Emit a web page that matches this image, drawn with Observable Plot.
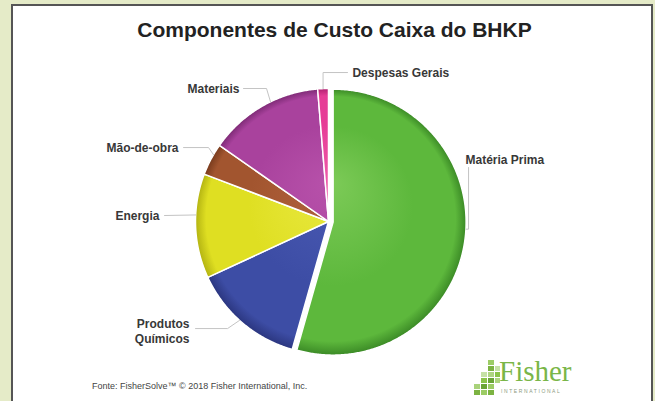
<!DOCTYPE html>
<html>
<head>
<meta charset="utf-8">
<script src="https://cdn.jsdelivr.net/npm/d3@7"></script>
<script src="https://cdn.jsdelivr.net/npm/@observablehq/plot@0.6"></script>
<style>
  html, body { margin: 0; padding: 0; }
  body { width: 655px; height: 401px; background: #e5ebc8; position: relative; overflow: hidden;
         font-family: "Liberation Sans", Arial, sans-serif; }
  #panel { position: absolute; left: 11px; top: 4px; width: 638px; height: 400px; background: #fff;
           border: 2px solid #555; border-bottom: none; }
  #title { position: absolute; left: 7px; width: 655px; top: 19px; text-align: center; font-weight: bold;
           font-size: 21px; line-height: 21px; color: #222; white-space: nowrap; }
  #chart { position: absolute; left: 0; top: 0; }
  #source { position: absolute; left: 92px; top: 381px; font-size: 9px; line-height: 11px; color: #444; white-space: nowrap; }
  #logoText { position: absolute; left: 499px; top: 357px; font-family: "Liberation Serif", "Times New Roman", serif;
              font-size: 29px; line-height: 29px; color: #7ab648; white-space: nowrap; }
  #logoSub { position: absolute; left: 501px; top: 388px; font-size: 5px; line-height: 6px; letter-spacing: 1.6px;
             color: #8c9a80; white-space: nowrap; }
  #logoIcon { position: absolute; left: 473px; top: 358px; }
</style>
</head>
<body>
<div id="panel"></div>
<div id="title">Componentes de Custo Caixa do BHKP</div>
<div id="chart"></div>
<div id="source">Fonte: FisherSolve™ © 2018 Fisher International, Inc.</div>
<svg id="logoIcon" width="28" height="38" viewBox="0 0 28 38">
  <rect x="1" y="26" width="6" height="5" fill="#a9d27a"/>
  <rect x="1" y="32" width="6" height="5" fill="#7cb342"/>
  <rect x="8" y="14" width="6" height="5" fill="#c5e1a5"/>
  <rect x="8" y="20" width="6" height="5" fill="#8bc34a"/>
  <rect x="8" y="26" width="6" height="5" fill="#6aa436"/>
  <rect x="8" y="32" width="6" height="5" fill="#9ccc65"/>
  <rect x="15" y="2" width="6" height="5" fill="#9ccc65"/>
  <rect x="15" y="8" width="6" height="5" fill="#7cb342"/>
  <rect x="15" y="14" width="6" height="5" fill="#aed581"/>
  <rect x="15" y="20" width="6" height="5" fill="#6aa436"/>
  <rect x="15" y="26" width="6" height="5" fill="#9ccc65"/>
  <rect x="15" y="32" width="6" height="5" fill="#7cb342"/>
  <rect x="22" y="8" width="5" height="5" fill="#c5e1a5"/>
  <rect x="22" y="14" width="5" height="5" fill="#8bc34a"/>
  <rect x="22" y="20" width="5" height="5" fill="#aed581"/>
</svg>
<div id="logoText">Fisher</div>
<div id="logoSub">INTERNATIONAL</div>

<script>
// ---- data ----
const categories = ["Matéria Prima", "Produtos Químicos", "Energia", "Mão-de-obra", "Materiais", "Despesas Gerais"];
const shares = [54.4, 13.7, 12.7, 3.9, 14.0, 1.3];
const labelTexts = ["Matéria Prima", "Produtos\nQuímicos", "Energia", "Mão-de-obra", "Materiais", "Despesas Gerais"];

// ---- style / layout (not data) ----
const palette = [
  {light: "#7cca57", base: "#5db83c", dark: "#3b8a26"},
  {light: "#4a5ab3", base: "#3d4da5", dark: "#2b367f"},
  {light: "#e9e941", base: "#dfdf22", dark: "#b3b312"},
  {light: "#b0613c", base: "#a2552f", dark: "#783b1d"},
  {light: "#b751aa", base: "#a9429d", dark: "#7d2a75"},
  {light: "#ee5aa8", base: "#e63d97", dark: "#b02070"}
];
const explode = [0.035, 0, 0, 0, 0, 0];
const labelLayout = [
  {x: 1.030, y: -0.466, anchor: "start", sx: 1.053, sy: -0.406, elbow: "v", f: 0.475},
  {x: -1.045, y: 0.823, anchor: "end", sx: -1.0, sy: 0.805, ex: -0.759, ey: 0.805, f: 0.53},
  {x: -1.271, y: -0.045, anchor: "end", sx: -1.233, sy: -0.045, elbow: null, f: 0.605},
  {x: -1.128, y: -0.556, anchor: "end", sx: -1.090, sy: -0.556, ex: -0.902, ey: -0.556, f: 0.66},
  {x: -0.669, y: -1.0, anchor: "end", sx: -0.639, sy: -1.0, ex: -0.466, ey: -1.0, f: 0.58},
  {x: 0.180, y: -1.120, anchor: "start", sx: 0.143, sy: -1.120, elbow: "h", f: 0.5}
];
const CX = 328, CY = 221, R = 133;

// ---- geometry derived from data ----
const pieArcs = d3.pie().sort(null).value(d => d)(shares);
const offsets = pieArcs.map((a, i) => {
  const mid = (a.startAngle + a.endAngle) / 2;
  return [explode[i] * Math.sin(mid), -explode[i] * Math.cos(mid)];
});
const slices = pieArcs.map((a, i) => {
  const [ox, oy] = offsets[i];
  const pts = [{x: ox, y: oy}];
  const n = Math.max(2, Math.ceil((a.endAngle - a.startAngle) / (Math.PI / 360)));
  for (let k = 0; k <= n; k++) {
    const t = a.startAngle + (a.endAngle - a.startAngle) * k / n;
    pts.push({x: ox + Math.sin(t), y: oy - Math.cos(t)});
  }
  pts.push({x: ox, y: oy});
  return pts;
});

const leaders = [];
const labels = [];
pieArcs.forEach((a, i) => {
  const L = labelLayout[i];
  const [ox, oy] = offsets[i];
  const t = a.startAngle + (a.endAngle - a.startAngle) * L.f;
  const px = ox + Math.sin(t), py = oy - Math.cos(t);
  const pts = [{x: L.sx, y: L.sy}];
  if (L.elbow === "v") pts.push({x: L.sx, y: py});
  else if (L.elbow === "h") pts.push({x: px, y: L.sy});
  else if (L.ex !== undefined) pts.push({x: L.ex, y: L.ey});
  pts.push({x: px, y: py});
  pts.forEach(p => leaders.push({...p, id: categories[i]}));
  labels.push({x: L.x, y: L.y, text: labelTexts[i], anchor: L.anchor});
});

const textStyle = {x: "x", y: "y", text: "text", fontSize: 12, fontWeight: "bold", fill: "#383838", lineHeight: 1.25};

const plot = Plot.plot({
  width: 655,
  height: 401,
  margin: 0,
  x: {type: "linear", domain: [-1, 1], range: [CX - R, CX + R], axis: null},
  y: {type: "linear", domain: [-1, 1], range: [CY - R, CY + R], axis: null},
  style: {background: "transparent", fontFamily: "'Liberation Sans', Arial, sans-serif"},
  marks: [
    ...slices.map((pts, i) => Plot.line(pts, {
      x: "x", y: "y", fill: palette[i].base, stroke: "white", strokeWidth: 1.5
    })),
    Plot.line(leaders, {x: "x", y: "y", z: "id", stroke: "#c4c4c4", strokeWidth: 1}),
    Plot.text(labels.filter(d => d.anchor === "start"), {...textStyle, textAnchor: "start"}),
    Plot.text(labels.filter(d => d.anchor === "end"), {...textStyle, textAnchor: "end"})
  ]
});
document.getElementById("chart").appendChild(plot);

// radial gradients for the glossy look (with plain-colour fallback)
try {
  const ns = "http://www.w3.org/2000/svg";
  const defs = document.createElementNS(ns, "defs");
  palette.forEach((p, i) => {
    const g = document.createElementNS(ns, "radialGradient");
    g.setAttribute("id", "pieGrad" + i);
    g.setAttribute("gradientUnits", "userSpaceOnUse");
    const [ox, oy] = offsets[i];
    const cx = CX + ox * R, cy = CY + oy * R;
    g.setAttribute("cx", cx); g.setAttribute("cy", cy); g.setAttribute("r", R);
    g.setAttribute("fx", cx); g.setAttribute("fy", cy - 40);
    [[0, p.light], [0.6, p.base], [0.92, p.base], [1, p.dark]].forEach(([o, c]) => {
      const s = document.createElementNS(ns, "stop");
      s.setAttribute("offset", String(o)); s.setAttribute("stop-color", c);
      g.appendChild(s);
    });
    defs.appendChild(g);
  });
  plot.insertBefore(defs, plot.firstChild);
  const groups = Array.from(plot.querySelectorAll('g[aria-label="line"]')).slice(0, palette.length);
  groups.forEach((g, i) => g.setAttribute("fill", `url(#pieGrad${i}) ${palette[i].base}`));
} catch (e) {}
</script>
</body>
</html>
